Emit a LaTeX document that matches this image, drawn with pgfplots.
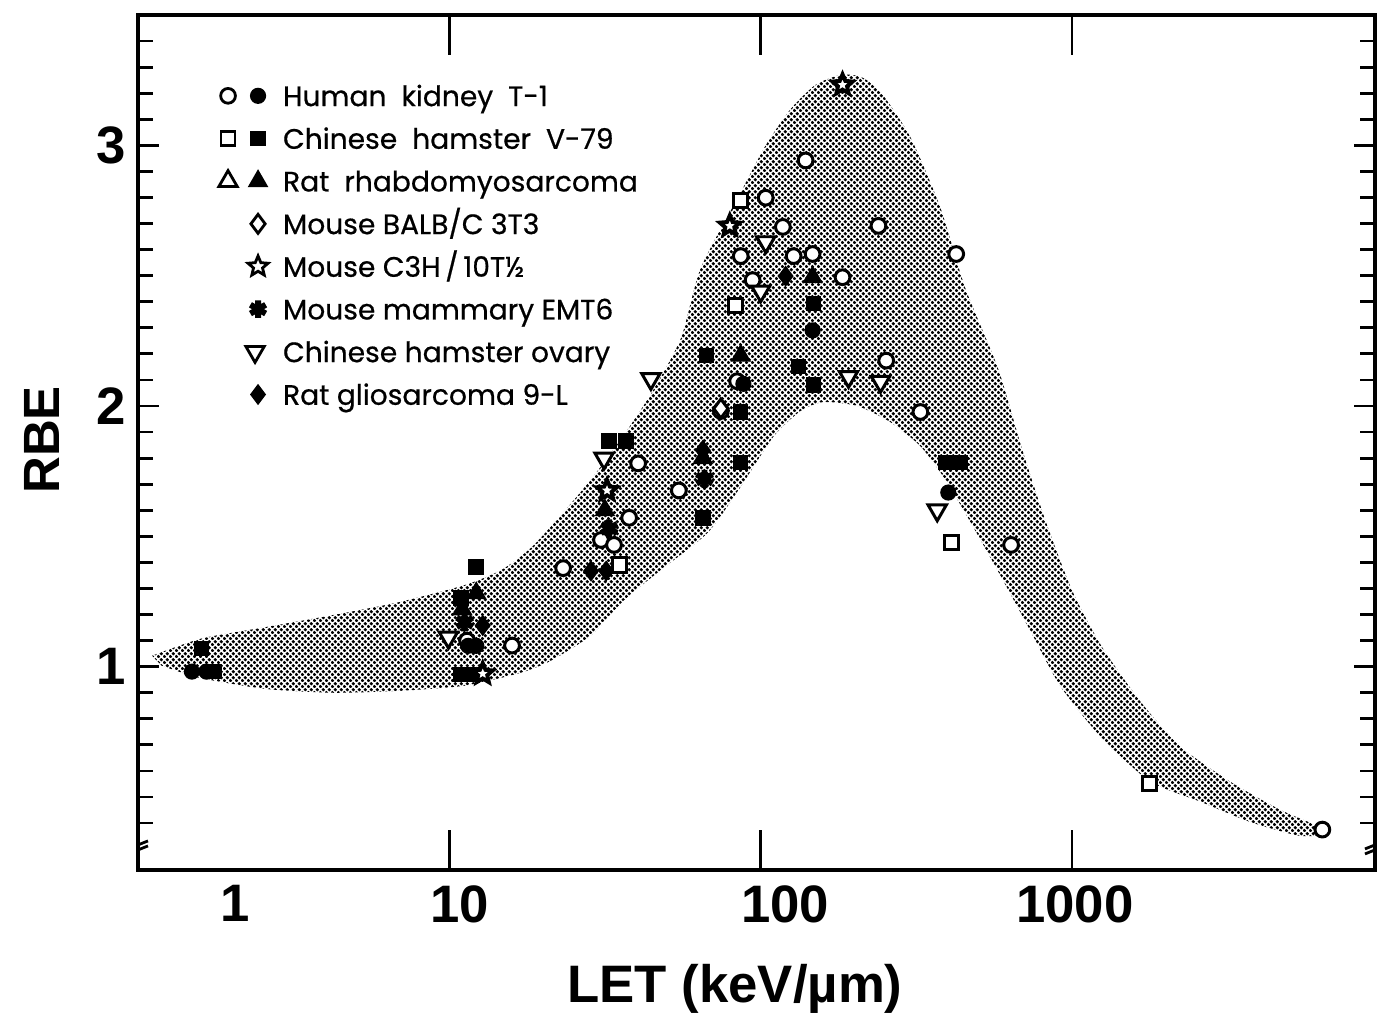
\documentclass[border=0pt]{standalone}
\usepackage{fontspec}
\setmainfont{Liberation Sans}
\newfontfamily\legfont[FakeBold=0.6]{Poppins}
\usepackage{pgfplots}
\pgfplotsset{compat=1.18}
\usetikzlibrary{calc,patterns.meta}

% stippled grey band
\tikzdeclarepattern{
  name=stipple,
  type=uncolored,
  bottom left={(0pt,0pt)},
  top right={(1.8pt,1.8pt)},
  tile size={(1.8pt,1.8pt)},
  code={
    \pgfpathcircle{\pgfqpoint{0.45pt}{0.45pt}}{0.56pt}
    \pgfpathcircle{\pgfqpoint{1.35pt}{1.35pt}}{0.56pt}
    \pgfusepath{fill}
  }
}

% five-pointed open star
\pgfdeclareplotmark{pstar}{%
  \pgfpathmoveto{\pgfpointpolar{90}{\pgfplotmarksize}}%
  \pgfpathlineto{\pgfpointpolar{126}{0.45\pgfplotmarksize}}%
  \pgfpathlineto{\pgfpointpolar{162}{\pgfplotmarksize}}%
  \pgfpathlineto{\pgfpointpolar{198}{0.45\pgfplotmarksize}}%
  \pgfpathlineto{\pgfpointpolar{234}{\pgfplotmarksize}}%
  \pgfpathlineto{\pgfpointpolar{270}{0.45\pgfplotmarksize}}%
  \pgfpathlineto{\pgfpointpolar{306}{\pgfplotmarksize}}%
  \pgfpathlineto{\pgfpointpolar{342}{0.45\pgfplotmarksize}}%
  \pgfpathlineto{\pgfpointpolar{18}{\pgfplotmarksize}}%
  \pgfpathlineto{\pgfpointpolar{54}{0.45\pgfplotmarksize}}%
  \pgfpathclose
  \pgfusepathqfillstroke
}

\begin{document}
\begin{tikzpicture}
\begin{axis}[
  scale only axis, width=12.37cm, height=8.55cm,
  xmode=log, xmin=1, xmax=9400, ymin=0.22, ymax=3.5,
  axis line style={line width=0.9pt},
  tick style={black, line width=0.8pt},
  major tick length=0.21cm, minor tick length=0.15cm,
  xtick=\empty,
  minor xtick={2,3,4,5,6,7,8,9,20,30,40,50,60,70,80,90,200,300,400,500,600,700,800,900,2000,3000,4000,5000,6000,7000,8000,9000},
  extra x ticks={2.05,10.8,120,1022},
  extra x tick labels={1,10,100,1000},
  extra x tick style={major tick length=0pt},
  ytick={1,2,3}, yticklabels={1,2,3},
  minor ytick={0.4,0.5,0.6,0.7,0.8,0.9,1.1,1.2,1.3,1.4,1.5,1.6,1.7,1.8,1.9,2.1,2.2,2.3,2.4,2.5,2.6,2.7,2.8,2.9,3.1,3.2,3.3,3.4},
  tick label style={font=\fontsize{15}{18}\selectfont\bfseries},
  xticklabel style={yshift=-0.03cm},
  xlabel={LET (keV/µm)}, ylabel={RBE},
  every axis x label/.style={at={(rel axis cs:0.4826,-0.1395)}, anchor=center,
    font=\fontsize{15}{18}\selectfont\bfseries},
  every axis y label/.style={at={(rel axis cs:-0.0776,0.503)}, rotate=90, anchor=center,
    font=\fontsize{14.5}{17}\selectfont\bfseries},
  legend cell align=left,
  legend style={at={(0.0631,0.9263)}, anchor=north west, draw=none, fill=none,
    inner sep=0pt, outer sep=0pt, row sep=0pt, column sep=0.15cm,
    font=\legfont\fontsize{8}{10}\selectfont,
    nodes={inner sep=0pt, text height=8pt, text depth=4.14pt}},
]

% band: upper edge left to right, lower edge right to left
\addplot[draw=none, pattern=stipple, pattern color=black, smooth, tension=0.4, forget plot] coordinates {
  (1.11,1.042) (1.60,1.108) (2.55,1.151) (4.19,1.197) (6.87,1.247) (11.2,1.313)
  (14.7,1.371) (18.3,1.456) (22.9,1.583) (28.5,1.718) (35.6,1.873) (44.4,2.046)
  (55.4,2.259) (64.2,2.529) (86.3,2.820) (103.8,3.000) (124.8,3.139) (150,3.232)
  (180.5,3.270) (209.4,3.263) (242.5,3.205) (302.6,3.031) (377.6,2.761) (454.1,2.452)
  (579,2.143) (691.4,1.834) (819.5,1.564) (1000,1.293) (1240,1.081) (1651.6,0.869)
  (2219,0.695) (3209,0.560) (4642,0.452) (6235,0.386) (6714,0.359)
  (5380,0.351) (3720,0.405) (2572,0.483) (1778,0.560) (1229.5,0.734) (915,0.927)
  (733.6,1.139) (587.9,1.351) (471,1.556) (391.6,1.718) (325.7,1.846) (261,1.938)
  (204.6,2.0) (159,2.015) (134.3,1.981) (110.1,1.884) (86.3,1.691) (67.6,1.514)
  (47.8,1.371) (36.4,1.255) (28.5,1.120) (21.2,1.023) (17.0,0.977) (11.2,0.927)
  (6.87,0.907) (4.19,0.900) (2.55,0.915) (1.566,0.958) (1.19,1.004)
} --cycle;

% Human kidney T-1, open
\addplot[black, only marks, forget plot, mark=*, mark size=2.1pt, mark options={fill=white, line width=0.85pt}] coordinates {
  (139.4,2.942) (103.8,2.799) (117.8,2.687) (86.3,2.575) (94.2,2.483) (127.6,2.575)
  (146.8,2.583) (183.2,2.494) (238.9,2.691) (424.6,2.583) (253,2.174) (325.8,1.977)
  (637,1.467) (6368,0.375) (40.4,1.78) (54.6,1.676) (37.8,1.571) (30.7,1.486)
  (33.8,1.467) (23.2,1.378) (15.9,1.081) (74.5,1.981) (11.4,1.10) (84,2.095)
};
% Human kidney T-1, filled
\addplot[black, only marks, forget plot, mark=*, mark size=2.1pt] coordinates {
  (1.49,0.981) (1.66,0.981) (146.8,2.29) (400.5,1.668) (88,2.085) (11.5,1.08) (12.2,1.08)
};
% Chinese hamster V-79, filled
\addplot[black, only marks, forget plot, mark=square*, mark size=2pt] coordinates {
  (1.60,1.069) (1.76,0.981) (10.9,0.969) (11.8,0.969) (12.2,1.382) (10.9,1.263)
  (32.6,1.865) (36.9,1.865) (67.1,2.193) (65.2,1.571) (86.3,1.977) (86.3,1.784)
  (132.4,2.151) (147.9,2.081) (147.9,2.394) (391.6,1.784) (412,1.784) (437.5,1.784)
};
% Chinese hamster V-79, open
\addplot[black, only marks, forget plot, mark=square*, mark size=2pt, mark options={fill=white, line width=0.85pt}] coordinates {
  (86.3,2.788) (83.2,2.386) (409.6,1.475) (1778,0.552) (35.1,1.39)
};
% Rat rhabdomyosarcoma, filled
\addplot[black, only marks, forget plot, mark=triangle*, mark size=3pt] coordinates {
  (86.3,2.193) (146.8,2.494) (12.2,1.282) (65.2,1.80) (31.6,1.60) (11.0,1.22)
};
% Mouse BALB/C 3T3
\addplot[black, only marks, forget plot, mark=diamond*, mark size=2.7pt, mark options={fill=white, line width=0.85pt}] coordinates {
  (74.5,1.99)
};
% Mouse C3H/10T1/2
\addplot[black, only marks, forget plot, mark=pstar, mark size=3pt, mark options={fill=white, line width=1.1pt}] coordinates {
  (183.2,3.232) (79.6,2.691) (32.1,1.676) (12.8,0.973)
};
% Mouse mammary EMT6
\addplot[black, only marks, forget plot, mark=asterisk, mark size=2.6pt, mark options={line width=1.7pt}] coordinates {
  (11.2,1.17) (32.6,1.53) (66,1.72)
};
% Chinese hamster ovary
\addplot[black, only marks, forget plot, mark=triangle*, mark size=3pt, mark options={fill=white, line width=0.85pt, rotate=180}] coordinates {
  (44.4,2.104) (31.4,1.799) (9.93,1.112) (103.8,2.629) (100,2.44) (191.5,2.112)
  (242.6,2.093) (369,1.60)
};
% Rat gliosarcoma 9-L
\addplot[black, only marks, forget plot, mark=diamond*, mark size=2.7pt] coordinates {
  (120.3,2.498) (28.5,1.367) (31.9,1.367) (65.2,1.83) (12.8,1.158)
};

% legend
\addlegendimage{legend image code/.code={
  \path[draw=none,fill=none] (-0.42cm,-0.1cm) rectangle (0.1cm,0.1cm);
  \draw[black, line width=0.8pt, mark=*, mark size=2.1pt, mark options={fill=white}] plot coordinates {(-0.3cm,0.035cm)};
  \draw[black, mark=*, mark size=2.1pt] plot coordinates {(0cm,0.035cm)};}}
\addlegendentry{Human\ \ kidney\ \ T-1}
\addlegendimage{legend image code/.code={
  \path[draw=none,fill=none] (-0.42cm,-0.1cm) rectangle (0.1cm,0.1cm);
  \draw[black, line width=0.8pt, mark=square*, mark size=2pt, mark options={fill=white}] plot coordinates {(-0.3cm,0.035cm)};
  \draw[black, mark=square*, mark size=2pt] plot coordinates {(0cm,0.035cm)};}}
\addlegendentry{Chinese\ \ hamster\ \ V-79}
\addlegendimage{legend image code/.code={
  \path[draw=none,fill=none] (-0.42cm,-0.1cm) rectangle (0.1cm,0.1cm);
  \draw[black, line width=0.8pt, mark=triangle*, mark size=3pt, mark options={fill=white}] plot coordinates {(-0.3cm,0.035cm)};
  \draw[black, mark=triangle*, mark size=3pt] plot coordinates {(0cm,0.035cm)};}}
\addlegendentry{Rat\ \ rhabdomyosarcoma}
\addlegendimage{legend image code/.code={
  \path[draw=none,fill=none] (-0.42cm,-0.1cm) rectangle (0.1cm,0.1cm);
  \draw[black, line width=0.8pt, mark=diamond*, mark size=2.7pt, mark options={fill=white}] plot coordinates {(0cm,0.035cm)};}}
\addlegendentry{Mouse BALB/C 3T3}
\addlegendimage{legend image code/.code={
  \path[draw=none,fill=none] (-0.42cm,-0.1cm) rectangle (0.1cm,0.1cm);
  \draw[black, line width=0.8pt, mark=pstar, mark size=3pt, mark options={fill=white}] plot coordinates {(0cm,0.035cm)};}}
\addlegendentry{Mouse C3H\,/\,10T½}
\addlegendimage{legend image code/.code={
  \path[draw=none,fill=none] (-0.42cm,-0.1cm) rectangle (0.1cm,0.1cm);
  \draw[black, mark=asterisk, mark size=2.5pt, mark options={line width=1.7pt}] plot coordinates {(0cm,0.035cm)};}}
\addlegendentry{Mouse mammary EMT6}
\addlegendimage{legend image code/.code={
  \path[draw=none,fill=none] (-0.42cm,-0.1cm) rectangle (0.1cm,0.1cm);
  \draw[black, line width=0.8pt, mark=triangle*, mark size=3pt, mark options={fill=white, rotate=180}] plot coordinates {(-0.03cm,0.035cm)};}}
\addlegendentry{Chinese hamster ovary}
\addlegendimage{legend image code/.code={
  \path[draw=none,fill=none] (-0.42cm,-0.1cm) rectangle (0.1cm,0.1cm);
  \draw[black, mark=diamond*, mark size=2.7pt] plot coordinates {(0cm,0.035cm)};}}
\addlegendentry{Rat gliosarcoma 9-L}

% long decade ticks
\pgfplotsinvokeforeach{10,100,1000}{
  \draw[line width=0.8pt] (axis cs:#1,0.22) -- ([yshift=0.4cm]axis cs:#1,0.22);
  \draw[line width=0.8pt] (axis cs:#1,3.5) -- ([yshift=-0.4cm]axis cs:#1,3.5);
}
% axis break marks
\pgfplotsinvokeforeach{0,1}{
  \draw[line width=0.8pt] ([xshift=-0.1cm,yshift=-0.07cm]rel axis cs:#1,0.027) -- ([xshift=0.1cm,yshift=0.01cm]rel axis cs:#1,0.027);
  \draw[line width=0.8pt] ([xshift=-0.1cm,yshift=-0.02cm]rel axis cs:#1,0.027) -- ([xshift=0.1cm,yshift=0.06cm]rel axis cs:#1,0.027);
}
\end{axis}
\pgfresetboundingbox
\path ($(current axis.south west)+(-1.38cm,-1.44cm)$) rectangle ($(current axis.north east)+(0.05cm,0.15cm)$);
\end{tikzpicture}
\end{document}
